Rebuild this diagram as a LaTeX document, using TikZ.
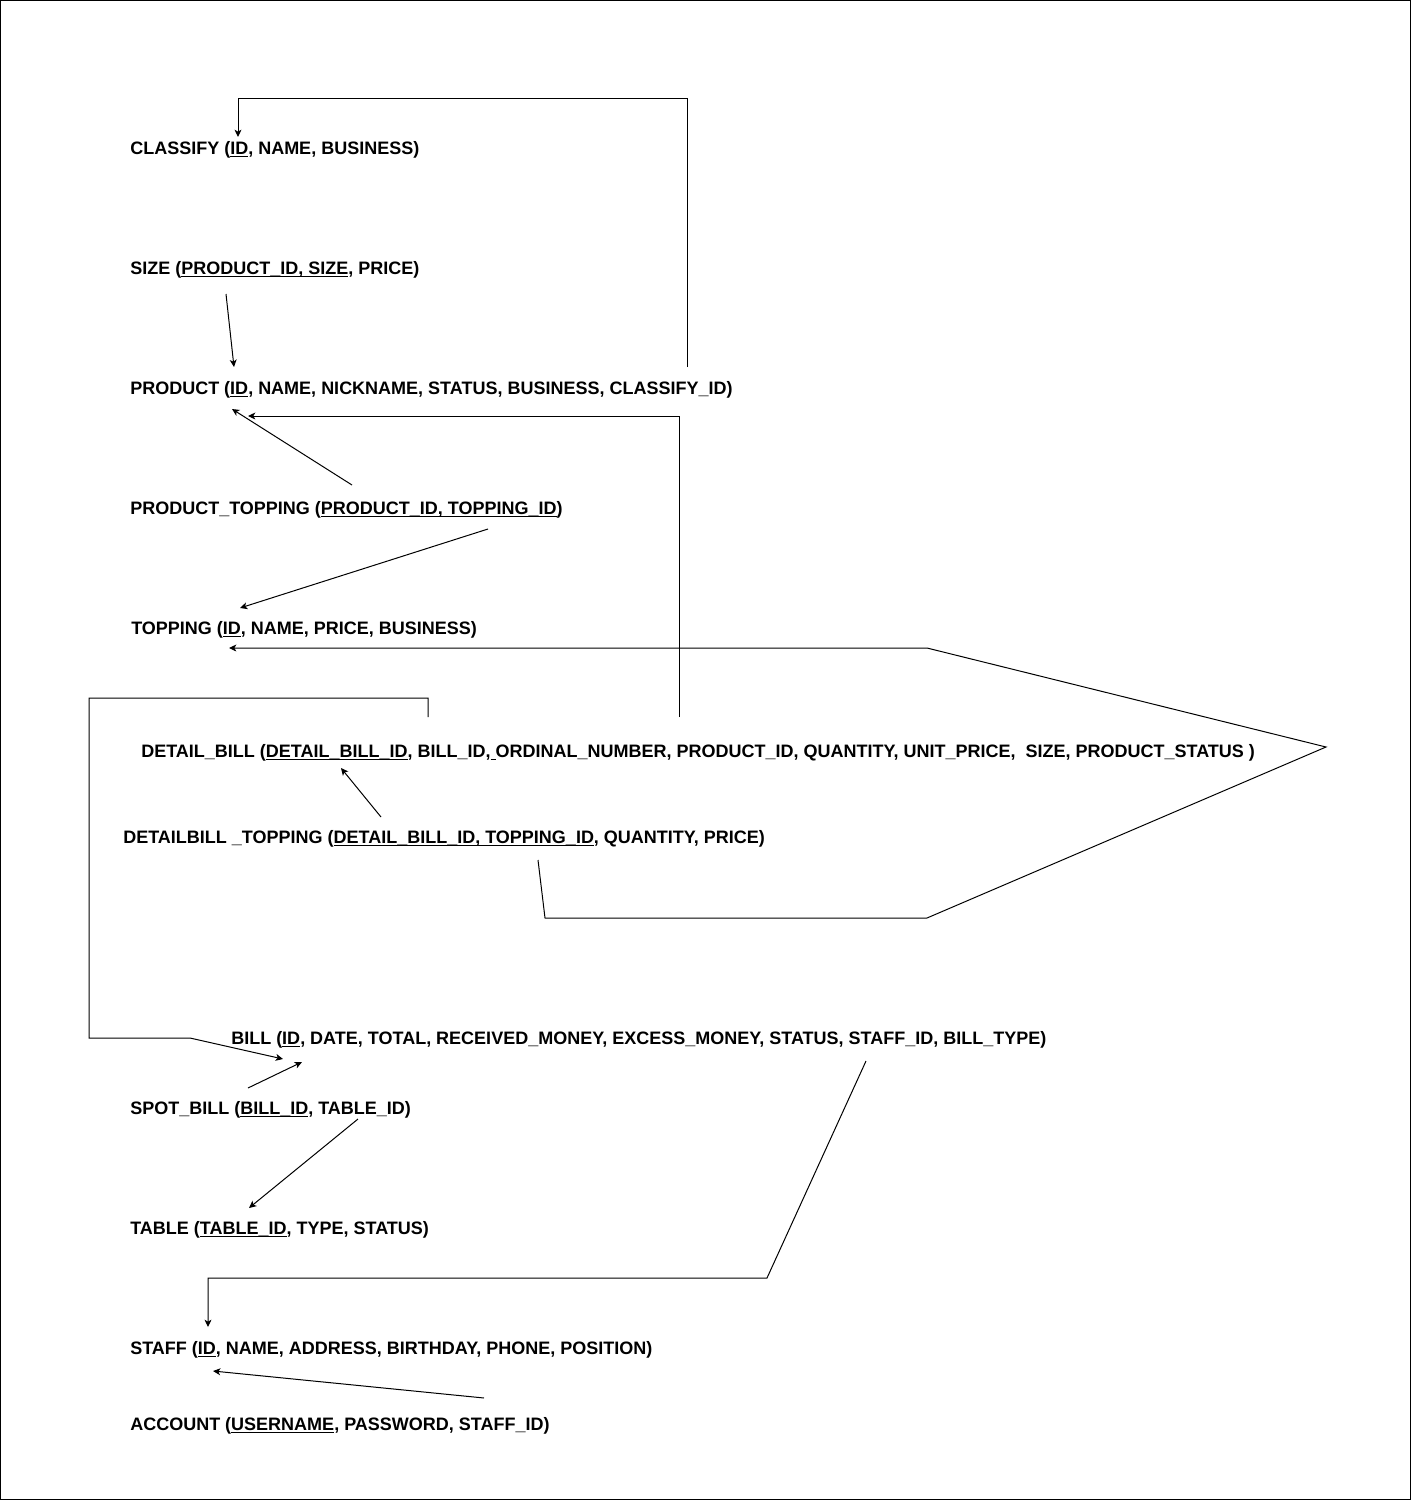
\documentclass[tikz,border=0pt]{standalone}
\usepackage{fontspec}
\setmainfont{Liberation Sans}
\usetikzlibrary{arrows.meta}

% key attributes are underlined
\newcommand{\pk}[1]{\underline{\smash{#1}}}

\begin{document}
\begin{tikzpicture}[x=0.75pt, y=-0.75pt,
    relation/.style={anchor=base west, inner sep=0pt, font=\bfseries\fontsize{13.5}{16}\selectfont},
    link/.style={line width=0.75pt},
    fk/.style={link, -{Stealth[length=5.5pt, width=5.2pt, inset=1.5pt]}}]

    % Page frame
    \useasboundingbox (0,0) rectangle (1411,1500);
    \draw[line width=0.75pt] (0.5,0.5) rectangle (1410.5,1499.5);

    % Relations
    \node[relation] (classify) at (130,154) {CLASSIFY (\pk{ID}, NAME, BUSINESS)};
    \node[relation] (size) at (130,274) {SIZE (\pk{PRODUCT\_ID, SIZE}, PRICE)};
    \node[relation] (product) at (130,394) {PRODUCT (\pk{ID}, NAME, NICKNAME, STATUS, BUSINESS, CLASSIFY\_ID)};
    \node[relation] (prodtopping) at (130,514) {PRODUCT\_TOPPING (\pk{PRODUCT\_ID, TOPPING\_ID})};
    \node[relation] (topping) at (131,634) {TOPPING (\pk{ID}, NAME, PRICE, BUSINESS)};
    \node[relation] (detailbill) at (141,757) {DETAIL\_BILL (\pk{DETAIL\_BILL\_ID}, BILL\_ID,\pk{~}ORDINAL\_NUMBER, PRODUCT\_ID, QUANTITY, UNIT\_PRICE,\ \ SIZE, PRODUCT\_STATUS )};
    \node[relation] (dbtopping) at (123,843) {DETAILBILL \_TOPPING (\pk{DETAIL\_BILL\_ID, TOPPING\_ID}, QUANTITY, PRICE)};
    \node[relation] (bill) at (231,1044) {BILL (\pk{ID}, DATE, TOTAL, RECEIVED\_MONEY, EXCESS\_MONEY, STATUS, STAFF\_ID, BILL\_TYPE)};
    \node[relation] (spotbill) at (130,1114) {SPOT\_BILL (\pk{BILL\_ID}, TABLE\_ID)};
    \node[relation] (table) at (130,1234) {TABLE (\pk{TABLE\_ID}, TYPE, STATUS)};
    \node[relation] (staff) at (130,1354) {STAFF (\pk{ID}, NAME, ADDRESS, BIRTHDAY, PHONE, POSITION)};
    \node[relation] (account) at (130,1430) {ACCOUNT (\pk{USERNAME}, PASSWORD, STAFF\_ID)};

    % Connector ends and bends
    \coordinate (prodCls) at (687,367);
    \coordinate (clsTop) at (238,98);
    \coordinate (clsIn) at (238,137);
    \coordinate (sizeOut) at (226,294);
    \coordinate (prodIn1) at (234,367);
    \coordinate (ptOut1) at (352,485);
    \coordinate (prodIn2) at (232,409);
    \coordinate (dbOut1) at (679,717);
    \coordinate (prodIn3) at (248,416);
    \coordinate (ptOut2) at (488,529);
    \coordinate (topIn1) at (240,608);
    \coordinate (dbtOut1) at (538,860);
    \coordinate (dbtBend) at (545,918);
    \coordinate (loopLow) at (927,918);
    \coordinate (loopTip) at (1326,747);
    \coordinate (loopHigh) at (927,648);
    \coordinate (topIn2) at (229,648);
    \coordinate (dbOut2) at (428,717);
    \coordinate (dbLoop) at (89,698);
    \coordinate (billBend) at (190,1038);
    \coordinate (billIn1) at (283,1059);
    \coordinate (dbtOut2) at (381,817);
    \coordinate (dbIn) at (341,768);
    \coordinate (spotOut1) at (248,1088);
    \coordinate (billIn2) at (302,1062);
    \coordinate (spotOut2) at (358,1119);
    \coordinate (tableIn) at (249,1208);
    \coordinate (billOut) at (866,1061);
    \coordinate (staffBend) at (767,1278);
    \coordinate (staffIn1) at (208,1327);
    \coordinate (accOut) at (484,1398);
    \coordinate (staffIn2) at (213,1371);

    % Foreign keys
    \draw[fk] (prodCls) |- (clsTop) -- (clsIn);
    \draw[fk] (sizeOut) -- (prodIn1);
    \draw[fk] (ptOut1) -- (prodIn2);
    \draw[fk] (dbOut1) |- (prodIn3);
    \draw[fk] (ptOut2) -- (topIn1);
    \draw[fk] (dbtOut1) -- (dbtBend) -- (loopLow) -- (loopTip) -- (loopHigh) -- (topIn2);
    \draw[fk] (dbOut2) |- (dbLoop) |- (billBend) -- (billIn1);
    \draw[fk] (dbtOut2) -- (dbIn);
    \draw[fk] (spotOut1) -- (billIn2);
    \draw[fk] (spotOut2) -- (tableIn);
    \draw[fk] (billOut) -- (staffBend) -| (staffIn1);
    \draw[fk] (accOut) -- (staffIn2);

\end{tikzpicture}
\end{document}
